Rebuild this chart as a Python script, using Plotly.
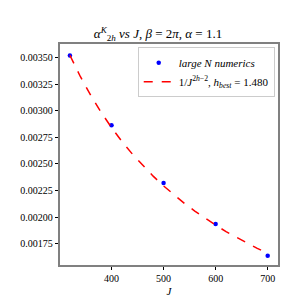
import plotly.graph_objects as go

J_points = [320, 400, 500, 600, 700]
alpha_points = [0.003518, 0.002862, 0.002320, 0.001936, 0.001638]

J_fit = [320, 340, 360, 380, 400, 420, 440, 460, 480, 500, 520, 540, 560, 580, 600, 620, 640, 660, 680, 700]
alpha_fit = [0.003520, 0.003321, 0.003144, 0.002985, 0.002841, 0.002711, 0.002593, 0.002484, 0.002385, 0.002293,
             0.002209, 0.002130, 0.002057, 0.001989, 0.001925, 0.001865, 0.001810, 0.001757, 0.001707, 0.001660]

x_ticks = [400, 500, 600, 700]
y_ticks = [0.00175, 0.00200, 0.00225, 0.00250, 0.00275, 0.00300, 0.00325, 0.00350]

FONT = "Liberation Serif"

fig = go.Figure()
fig.add_trace(go.Scatter(
    x=J_points, y=alpha_points, mode="markers",
    marker=dict(color="blue", size=4.5),
    name="<i>large N numerics</i>"))
fig.add_trace(go.Scatter(
    x=J_fit, y=alpha_fit, mode="lines",
    line=dict(color="red", width=1.5, dash="dash"),
    name="1/<i>J</i><sup>2<i>h</i>−2</sup>, <i>h</i><sub><i>best</i></sub> = 1.480"))

fig.update_layout(
    width=300, height=300,
    margin=dict(l=37, r=30, t=36, b=34),
    paper_bgcolor="white", plot_bgcolor="white",
    font=dict(family=FONT, size=10, color="black"),
    title=dict(text="<i>α</i><sup><i>K</i></sup><sub>2<i>h</i></sub> <i>vs J</i>, <i>β</i> = 2<i>π</i>, <i>α</i> = 1.1",
               x=0.5, xanchor="center", y=0.915, yanchor="middle",
               font=dict(family=FONT, size=13)),
    showlegend=True,
    legend=dict(x=0.985, y=0.985, xanchor="right", yanchor="top",
                bgcolor="rgba(255,255,255,0.8)", bordercolor="#cccccc", borderwidth=1,
                font=dict(family=FONT, size=11), tracegroupgap=0, itemwidth=30),
)
fig.update_xaxes(
    range=[301, 719.8], tickvals=x_ticks, ticktext=[str(v) for v in x_ticks],
    showgrid=False, zeroline=False, ticks="outside", ticklen=3.5, tickcolor="black",
    showline=True, linecolor="#808080", linewidth=1.5, mirror=True,
    title=dict(text="<i>J</i>", standoff=4, font=dict(family=FONT, size=11)))
fig.update_yaxes(
    range=[0.001551, 0.003626], tickvals=y_ticks, ticktext=["%.5f" % v for v in y_ticks],
    showgrid=False, zeroline=False, ticks="outside", ticklen=3.5, tickcolor="black",
    showline=True, linecolor="#808080", linewidth=1.5, mirror=True)

fig.write_html("out.html")
